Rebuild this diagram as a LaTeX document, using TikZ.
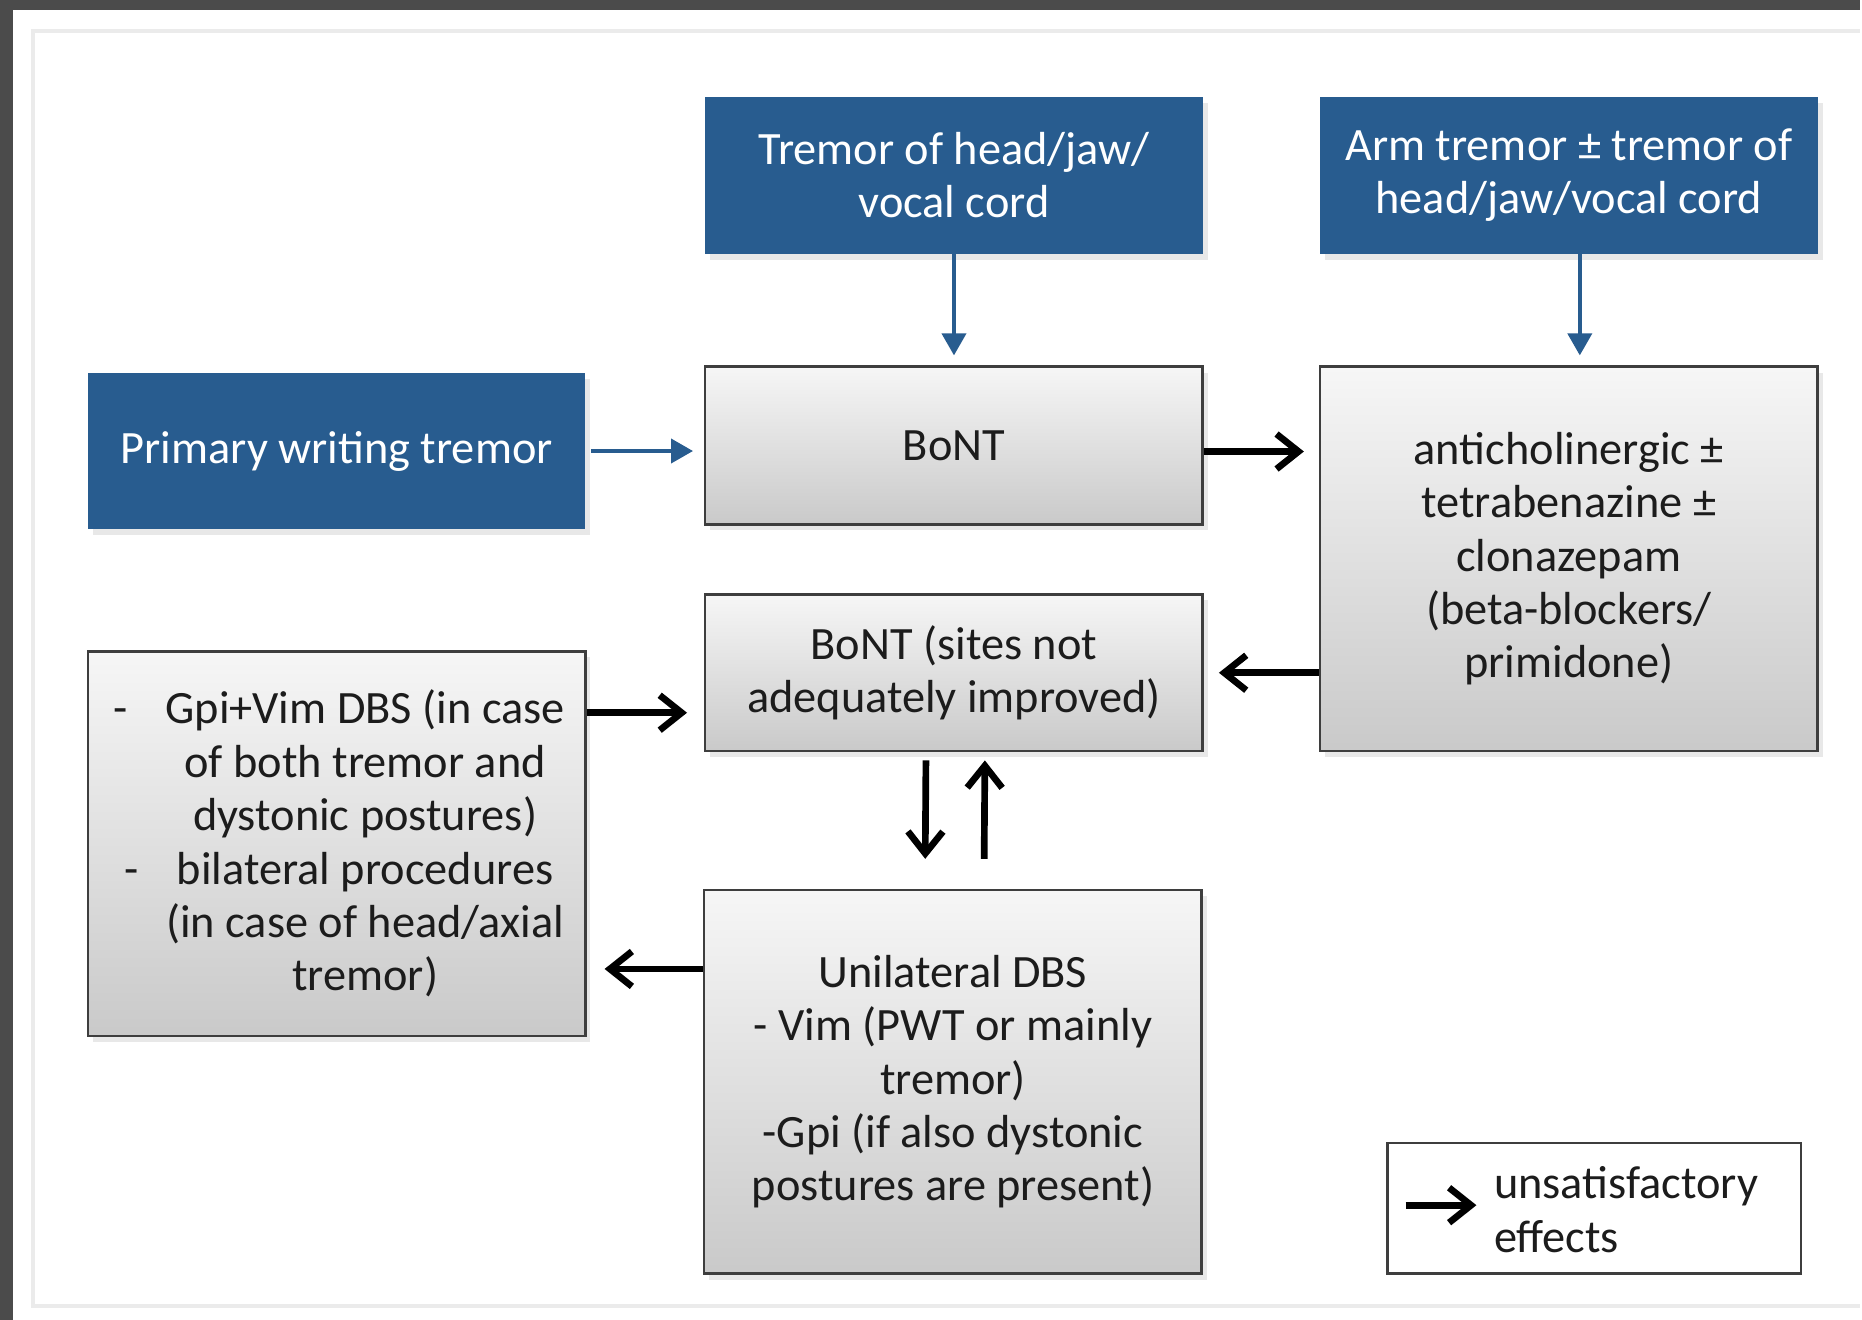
\documentclass[tikz,border=0pt]{standalone}
\usepackage{fontspec}
\setmainfont{Carlito}
\usetikzlibrary{arrows.meta,positioning,calc,shadows}
\definecolor{myBlue}{RGB}{40,92,143}
\definecolor{myFrame}{RGB}{75,75,75}
\definecolor{myInk}{RGB}{28,28,28}
\tikzset{
	bluebox/.style={
		fill=myBlue,
		text=white,
		align=center,
		inner sep=0pt,
		minimum width=4.98cm,
		minimum height=1.57cm,
		drop shadow={opacity=0.18,shadow xshift=0.5mm,shadow yshift=-0.6mm}
	},
	greybox/.style={
		draw=myInk!85,
		line width=0.7pt,
		top color=gray!7,
		bottom color=gray!42,
		text=myInk,
		align=center,
		inner sep=0pt,
		minimum width=4.98cm,
		drop shadow={opacity=0.18,shadow xshift=0.5mm,shadow yshift=-0.6mm}
	},
	barr/.style={-{Triangle[length=2.2mm,width=2.4mm]}, line width=1.1pt, myBlue},
	karr/.style={-{Straight Barb[length=2.2mm,width=3.5mm]}, line width=1.9pt, black}
}

\begin{document}
\begin{tikzpicture}[x=1cm, y=1cm, font=\fontsize{13.2}{15.2}\selectfont]
		\fill[myFrame] (0,0) rectangle (18.62,13.21);
		\fill[white] (0.13,0) rectangle (18.62,13.11);
		\draw[black!8, line width=0.4mm] (18.62,12.90) -| (0.33,0.14) -- (18.62,0.14);
		\node[bluebox] (hjv) at (9.55,11.455) {Tremor of head/jaw/\\vocal cord};
		\node[bluebox] (arm) at (15.705,11.455) {Arm tremor ± tremor of\\head/jaw/vocal cord};
		\node[bluebox] (pwt) at (3.37,8.695) {Primary writing tremor};
		\node[greybox, minimum height=1.58cm] (bont) at (9.55,8.75) {BoNT};
		\node[greybox, minimum height=3.85cm] (drugs) at (15.705,7.615) {anticholinergic ±\\tetrabenazine ±\\clonazepam\\(beta-blockers/\\primidone)};
		\node[greybox, minimum height=1.57cm] (bont2) at (9.55,6.475) {BoNT (sites not\\adequately improved)};
		\node[greybox, minimum height=3.85cm] (gpivim) at (3.37,4.765) {};
		\node[align=center, text=myInk] (gpitxt) at ([xshift=2.85mm]gpivim.center) {\llap{-\hspace{3.8mm}}Gpi+Vim DBS (in case\\of both tremor and\\dystonic postures)\\\llap{-\hspace{3.8mm}}bilateral procedures\\(in case of head/axial\\tremor)};
		\node[greybox, minimum height=3.84cm] (udbs) at (9.54,2.38) {Unilateral DBS\\- Vim (PWT or mainly\\tremor)\\-Gpi (if also dystonic\\postures are present)};
		\node[draw=myInk!85, line width=0.7pt, fill=white, minimum width=4.14cm, minimum height=1.31cm] (legend) at (15.96,1.115) {};
		\node[anchor=west, align=left, text=myInk, inner sep=0pt] (lgtext) at (14.95,1.10) {unsatisfactory\\effects};
		\coordinate (lgtail) at (14.07,1.145);
		\coordinate (gin) at ($(bont2.west)+(0,-0.4)$);
		\coordinate (gout) at ($(udbs.west)+(0,1.13)$);
		\draw[barr, shorten >=1mm] (hjv) -- (bont);
		\draw[barr, shorten >=1mm] ([xshift=1.1mm]arm.south) -- ([xshift=1.1mm]drugs.north);
		\draw[barr, shorten <=0.5mm, shorten >=1.1mm] (pwt.east) -- (pwt.east -| bont.west);
		\draw[karr, shorten >=1.5mm] ([yshift=-0.6mm]bont.east) -- ([yshift=-0.6mm]bont.east -| drugs.west);
		\draw[karr, shorten >=1.5mm] (drugs.west |- bont2.east) -- (bont2.east);
		\draw[karr, shorten >=1.7mm] (gpivim.east |- gin) -- (gin);
		\draw[karr, shorten <=0.8mm, shorten >=3mm] ([xshift=-2.8mm]bont2.south) -- ([xshift=-2.8mm]udbs.north);
		\draw[karr, shorten <=3mm, shorten >=0.8mm] ([xshift=3.1mm]udbs.north) -- ([xshift=3.1mm]bont2.south);
		\draw[karr, shorten >=1.8mm] (gout) -- (gout -| gpivim.east);
		\draw[karr, shorten >=1.7mm] (lgtail) -- (lgtail -| lgtext.west);
	\end{tikzpicture}
\end{document}
